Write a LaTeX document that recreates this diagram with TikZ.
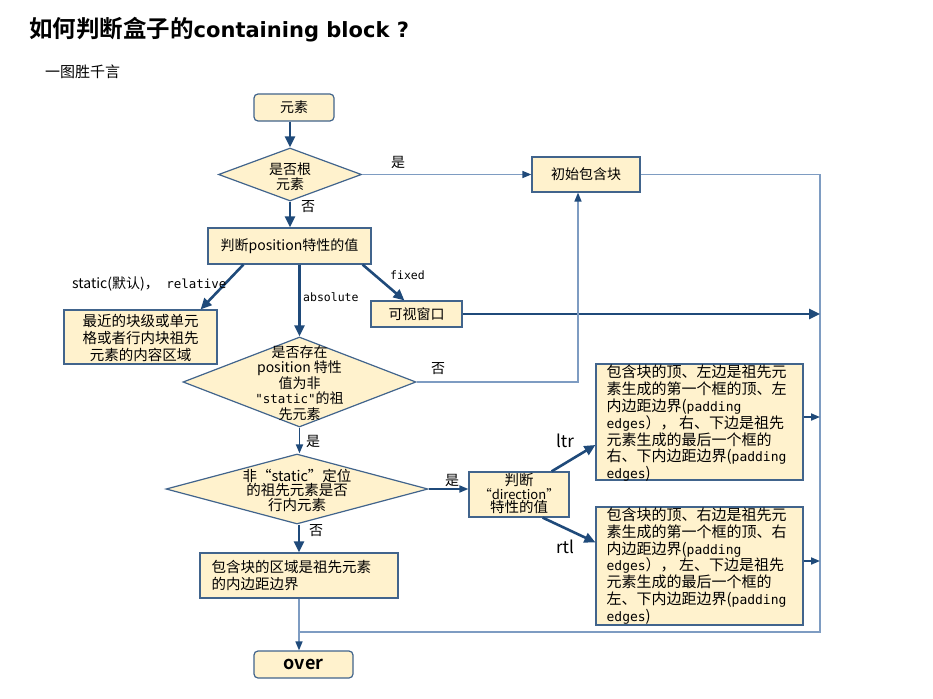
\documentclass[tikz,border=0pt]{standalone}
\usepackage{fontspec}
\setmainfont{Noto Sans CJK SC}[BoldFont={Noto Sans CJK SC Bold}]
\newfontfamily\mono{DejaVu Sans Mono}
\newfontfamily\dejavu{DejaVu Sans}
\usetikzlibrary{shapes.geometric,arrows.meta,calc}
\definecolor{boxfill}{HTML}{FFF2CD}
\definecolor{boxline}{HTML}{41648C}
\definecolor{thinc}{HTML}{7E9CC2}
\definecolor{navy}{HTML}{1F4A7A}
\begin{document}
\begin{tikzpicture}[x=1pt,y=-1pt,
  box/.style={draw=boxline, fill=boxfill, line width=1.2pt, inner sep=0pt, rectangle},
  rbox/.style={box, rounded corners=4pt},
  dia/.style={draw=boxline, fill=boxfill, line width=1.2pt, inner sep=0pt, diamond},
  txt/.style={inner sep=0pt, align=center, font=\fontsize{14}{15}\selectfont},
  lab/.style={inner sep=0pt, font=\fontsize{14}{15}\selectfont},
  bigtip/.style={-{Triangle[length=11pt,width=10pt,color=navy]}},
  smalltip/.style={-{Triangle[length=9pt,width=7pt,color=navy]}},
  darr/.style={navy, line width=2.6pt, bigtip},
  marr/.style={navy, line width=1.8pt, smalltip},
  tarr/.style={thinc, line width=1.5pt, smalltip},
  tline/.style={thinc, line width=1.5pt},
]
\useasboundingbox (0,0) rectangle (933,698);
\fill[white] (0,0) rectangle (933,698);

% title
\node[inner sep=0pt, anchor=west, font=\fontsize{23.5}{26}\selectfont\bfseries] (title) at (29,30) {如何判断盒子的{\dejavu\bfseries\fontsize{21}{26}\selectfont containing block ?}};
\node[inner sep=0pt, anchor=west, font=\fontsize{15}{16}\selectfont] (sub) at (45,72) {一图胜千言};

% boxes
\node[rbox, minimum width=80pt, minimum height=27pt] (e) at (294,107.5) {};
\node[txt] (eT) at (e) {元素};

\node[dia, minimum width=143pt, minimum height=53pt] (d1) at (290,174.5) {};
\node[txt] (d1T) at (290,176.5) {是否根\\元素};

\node[box, minimum width=108pt, minimum height=35pt] (init) at (586,174.5) {};
\node[txt] (initT) at (init) {初始包含块};

\node[box, minimum width=163pt, minimum height=36pt] (pos) at (289.5,246) {};
\node[txt] (posT) at (pos) {判断position特性的值};

\node[box, minimum width=153pt, minimum height=54pt] (near) at (140.5,337) {};
\node[txt, font=\fontsize{14.5}{17}\selectfont] (nearT) at (140.5,338) {最近的块级或单元\\格或者行内块祖先\\元素的内容区域};

\node[box, minimum width=91pt, minimum height=26pt] (view) at (416.5,314) {};
\node[txt] (viewT) at (view) {可视窗口};

\node[dia, minimum width=233pt, minimum height=90pt] (d2) at (299.5,382) {};
\node[txt, font=\fontsize{14}{15.5}\selectfont] (d2T) at (299.5,383) {是否存在\\position 特性\\值为非\\{\mono\fontsize{12.5}{15.5}\selectfont "static"}的祖\\先元素};

\node[dia, minimum width=262pt, minimum height=70pt] (d3) at (297,489) {};
\node[txt, font=\fontsize{14.5}{14.5}\selectfont] (d3T) at (297,490) {非“static”定位\\的祖先元素是否\\行内元素};

\node[box, minimum width=100pt, minimum height=45pt] (dir) at (519,494.5) {};
\node[txt, font=\fontsize{14.5}{13.5}\selectfont] (dirT) at (519,493.5) {判断\\{\fontsize{13}{13.5}\selectfont“direction”}\\特性的值};

\node[box, minimum width=207pt, minimum height=116pt] (ltr) at (699.5,422) {};
\node[txt, align=left, anchor=west, font=\fontsize{15}{16.8}\selectfont] (ltrT) at ([xshift=11pt,yshift=-1.5pt]ltr.west)
  {包含块的顶、左边是祖先元\\素生成的第一个框的顶、左\\内边距边界({\mono\fontsize{13}{16.8}\selectfont padding}\\{\mono\fontsize{13}{16.8}\selectfont edges}）， 右、下边是祖先\\元素生成的最后一个框的\\右、下内边距边界({\mono\fontsize{13}{16.8}\selectfont padding}\\{\mono\fontsize{13}{16.8}\selectfont edges})};

\node[box, minimum width=207pt, minimum height=118pt] (rtl) at (699.5,566) {};
\node[txt, align=left, anchor=west, font=\fontsize{15}{16.8}\selectfont] (rtlT) at ([xshift=11pt]rtl.west)
  {包含块的顶、右边是祖先元\\素生成的第一个框的顶、右\\内边距边界({\mono\fontsize{13}{16.8}\selectfont padding}\\{\mono\fontsize{13}{16.8}\selectfont edges}）， 左、下边是祖先\\元素生成的最后一个框的\\左、下内边距边界({\mono\fontsize{13}{16.8}\selectfont padding}\\{\mono\fontsize{13}{16.8}\selectfont edges})};

\node[box, minimum width=198pt, minimum height=45pt] (b3) at (299,575.5) {};
\node[txt, align=left, anchor=west, font=\fontsize{14.5}{17}\selectfont] (b3T) at ([xshift=12pt]b3.west) {包含块的区域是祖先元素\\的内边距边界};

\node[rbox, minimum width=99pt, minimum height=27pt] (over) at (303.5,664.5) {};
\node[txt, font=\fontsize{18}{20}\selectfont\bfseries] (overT) at (over) {over};

% helper coordinates
\coordinate (rtop) at (820,174.5);
\coordinate (rbot) at (820,632);

% connectors
\draw[darr] (e.south -| d1.north) -- (d1.north);
\draw[darr] (d1.south) -- (d1.south |- pos.north);
\draw[tarr] (d1.east) -- (init.west);
\draw[tline] (init.east) -- (rtop) -- (rbot) -- (rbot -| b3.south);

\draw[darr] ([xshift=36pt]pos.south west) -- ([xshift=-17pt]near.north east);
\draw[darr] (d2.north |- pos.south) -- (d2.north);
\draw[darr] ([xshift=-9pt]pos.south east) -- ([xshift=34pt]view.north west);
\draw[darr] (view.east) -- (view.east -| rtop);

\draw[tarr] (d2.east) -| ([xshift=-8pt]init.south);
\draw[marr] (d2.south) -- (d2.south |- d3.north);
\draw[marr] (d3.east) -- (d3.east -| dir.west);
\draw[darr] ([xshift=-18pt]dir.north east) -- ([yshift=-23pt]ltr.west);
\draw[darr] ([xshift=-27pt]dir.south east) -- ([yshift=-36pt]rtl.north west);
\draw[marr] ([yshift=5pt]ltr.east) -- ([yshift=5pt]ltr.east -| rtop);
\draw[marr] ([yshift=5pt]rtl.east) -- ([yshift=5pt]rtl.east -| rtop);
\draw[darr] (d3.south -| b3.north) -- (b3.north);
\draw[tarr] (b3.south) -- (b3.south |- over.north);

% labels
\node[lab] (l1) at (398,162) {是};
\node[lab] (l2) at (308,207) {否};
\node[lab, anchor=west] (l3) at (72,284) {static(默认)，{\mono\fontsize{12.5}{15}\selectfont\ relative}};
\node[lab, anchor=west, font=\mono\fontsize{11.5}{13}\selectfont] (l4) at (303,297) {absolute};
\node[lab, anchor=west, font=\mono\fontsize{11.5}{13}\selectfont] (l5) at (390,275) {fixed};
\node[lab] (l6) at (438,369) {否};
\node[lab] (l7) at (313,441) {是};
\node[lab] (l8) at (452,480) {是};
\node[lab] (l9) at (316,531) {否};
\node[lab, font=\fontsize{17}{18}\selectfont] (l10) at (565,441) {ltr};
\node[lab, font=\fontsize{17}{18}\selectfont] (l11) at (565,547) {rtl};
\end{tikzpicture}
\end{document}
